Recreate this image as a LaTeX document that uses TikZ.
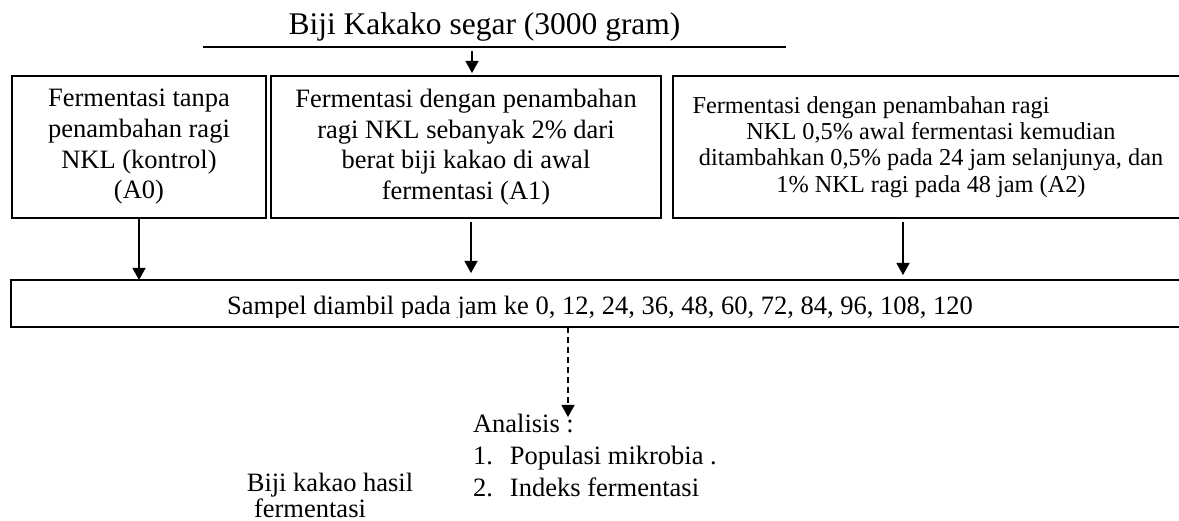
\documentclass[tikz,border=0pt]{standalone}
\usepackage{fontspec}
\setmainfont{Liberation Serif}
\usetikzlibrary{arrows.meta}
\begin{document}
\begin{tikzpicture}[x=1pt,y=-1pt,
  box/.style={draw,line width=1.8pt,rectangle,inner sep=0pt,outer sep=0pt,align=center},
  arr/.style={line width=1.3pt,-{Triangle[length=12pt,width=13pt]}},
  darr/.style={arr,dash pattern=on 6pt off 4pt},
  big/.style={font=\fontsize{26.5}{30.7}\selectfont},
  mid/.style={font=\fontsize{24.3}{26.3}\selectfont},
  ttl/.style={font=\fontsize{31.5}{36}\selectfont},
  plain/.style={inner sep=0pt,outer sep=0pt}
]
\clip (0,0) rectangle (1179,521);
\fill[white] (0,0) rectangle (1179,521);

% title
\node[ttl,plain,anchor=base] (title) at (484.5,35) {Biji Kakako segar (3000 gram)};
\draw[line width=1.8pt] (203,47) -- (786,47);

% treatment boxes
\node[box,big,minimum width=254pt,minimum height=142pt] (a0) at (139,147)
  {Fermentasi tanpa\\penambahan ragi\\NKL (kontrol)\\(A0)};
\node[box,big,minimum width=390pt,minimum height=142pt] (a1) at (466,147)
  {Fermentasi dengan penambahan\\ragi NKL sebanyak 2\% dari\\berat biji kakao di awal\\fermentasi (A1)};
\node[box,mid,minimum width=516pt,minimum height=142pt] (a2) at (931,147)
  {Fermentasi dengan penambahan ragi\hspace*{120pt}\\NKL 0,5\% awal fermentasi kemudian\\ditambahkan 0,5\% pada 24 jam selanjunya, dan\\1\% NKL ragi pada 48 jam (A2)};

% sampling box
\node[box,minimum width=1184pt,minimum height=47pt] (samp) at (603,303.5) {};
\begin{scope}
  \clip (12,281) rectangle (1179,317.5);
  \node[big,plain,anchor=base] (stxt) at (600,315)
    {Sampel diambil pada jam ke 0, 12, 24, 36, 48, 60, 72, 84, 96, 108, 120};
\end{scope}

% analysis text (base anchor = last line)
\node[plain,anchor=base west,align=left,font=\fontsize{26.5}{31.5}\selectfont] (anal) at (473,496)
  {Analisis :\\\makebox[37pt][l]{1.}Populasi mikrobia .\\\makebox[37pt][l]{2.}Indeks fermentasi};
\node[plain,anchor=base,align=center,font=\fontsize{26.5}{26}\selectfont] (hasil) at (330,517)
  {Biji kakao hasil\\fermentasi\hspace*{40pt}};

% connectors
\coordinate (tstart) at (472,51);
\draw[arr] (tstart) -- ([yshift=3pt]a1.north -| tstart);
\draw[arr] (a0.south) -- (samp.north -| a0.south);
\draw[arr] ([xshift=5pt,yshift=-4pt]a1.south) -- ([xshift=5pt,yshift=7pt]samp.north -| a1.south);
\draw[arr] ([xshift=-28pt,yshift=-4pt]a2.south) -- ([xshift=-28pt,yshift=5pt]samp.north -| a2.south);
\coordinate (dend) at (568,417);
\draw[darr] (samp.south -| dend) -- (dend);
\end{tikzpicture}
\end{document}
